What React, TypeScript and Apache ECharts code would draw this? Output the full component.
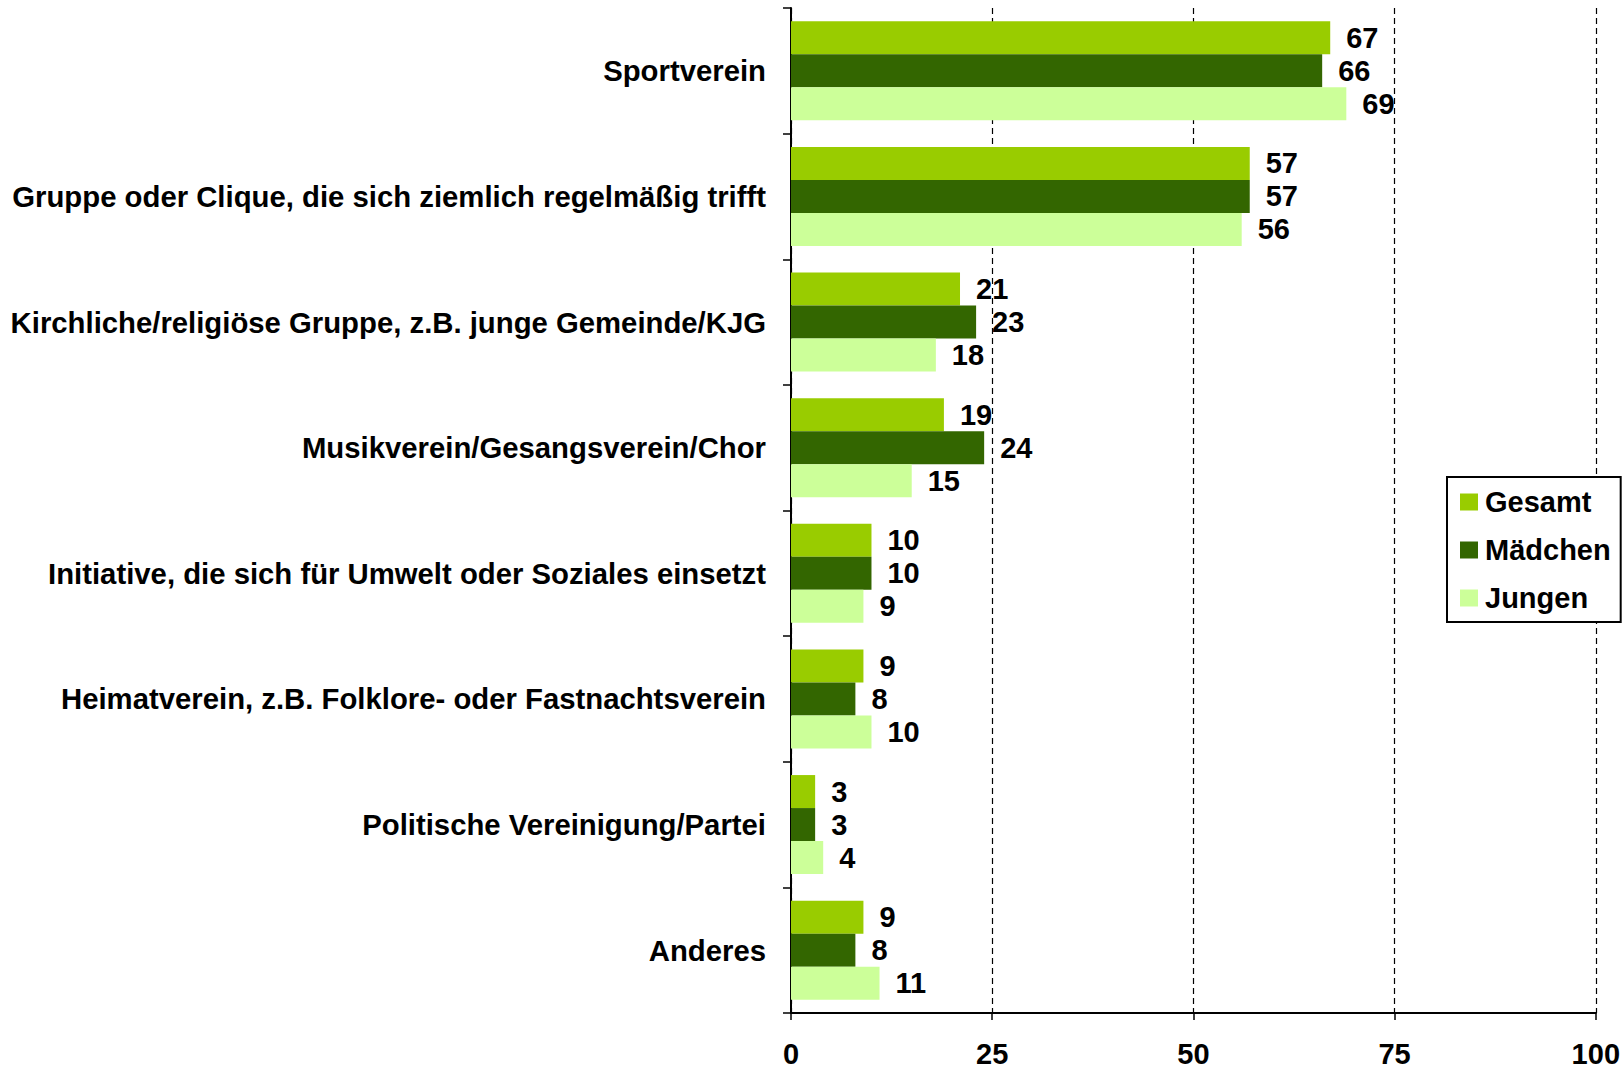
import React, { useEffect, useRef } from "react";
import * as echarts from "echarts";

const categories = [
  "Sportverein",
  "Gruppe oder Clique, die sich ziemlich regelmäßig trifft",
  "Kirchliche/religiöse Gruppe, z.B. junge Gemeinde/KJG",
  "Musikverein/Gesangsverein/Chor",
  "Initiative, die sich für Umwelt oder Soziales einsetzt",
  "Heimatverein, z.B. Folklore- oder Fastnachtsverein",
  "Politische Vereinigung/Partei",
  "Anderes",
];
const gesamt = [67, 57, 21, 19, 10, 9, 3, 9];
const maedchen = [66, 57, 23, 24, 10, 8, 3, 8];
const jungen = [69, 56, 18, 15, 9, 10, 4, 11];
const seriesNames = ["Gesamt", "Mädchen", "Jungen"];
const seriesColors = ["#99CC00", "#336600", "#CCFF99"];
const xTicks = [0, 25, 50, 75, 100];

const FONT = "'Liberation Sans', Arial, sans-serif";

export default function App() {
  const ref = useRef<HTMLDivElement>(null);
  useEffect(() => {
    document.body.style.margin = "0";
    if (!ref.current) return;
    const chart = echarts.init(ref.current, null, { renderer: "svg" });
    const values = [gesamt, maedchen, jungen];
    chart.setOption({
      animation: false,
      backgroundColor: "#ffffff",
      textStyle: { fontFamily: FONT },
      grid: { left: 791, right: 27, top: 8, bottom: 50, containLabel: false },
      legend: {
        orient: "vertical",
        left: 1447,
        top: 477,
        data: seriesNames,
        itemWidth: 18,
        itemHeight: 17,
        itemGap: 18,
        padding: [10, 10, 9, 13],
        borderColor: "#000000",
        borderWidth: 2,
        backgroundColor: "#ffffff",
        icon: "rect",
        textStyle: {
          fontFamily: FONT,
          fontSize: 29,
          lineHeight: 30,
          fontWeight: "bold",
          color: "#000000",
          padding: [0, 0, 0, 2],
        },
      },
      xAxis: {
        type: "value",
        min: xTicks[0],
        max: xTicks[xTicks.length - 1],
        interval: 25,
        axisLine: { show: true, lineStyle: { color: "#000000", width: 2 } },
        axisTick: { show: true, length: 7, lineStyle: { color: "#000000", width: 1.5 } },
        axisLabel: {
          margin: 26,
          fontFamily: FONT,
          fontSize: 29,
          fontWeight: "bold",
          color: "#000000",
        },
        splitLine: {
          show: true,
          lineStyle: { color: "#000000", type: [6, 4], width: 1.2 },
        },
      },
      yAxis: {
        type: "category",
        data: categories,
        inverse: true,
        axisLine: { show: true, lineStyle: { color: "#000000", width: 2 } },
        axisTick: { show: true, length: 8, lineStyle: { color: "#000000", width: 1.5 } },
        axisLabel: {
          margin: 25,
          fontFamily: FONT,
          fontSize: 29.3,
          fontWeight: "bold",
          color: "#000000",
        },
        splitLine: { show: false },
      },
      series: seriesNames.map((name, i) => ({
        name,
        type: "bar",
        data: values[i],
        barWidth: 33,
        barGap: "0%",
        itemStyle: { color: seriesColors[i] },
        label: {
          show: true,
          position: "right",
          distance: 16,
          fontFamily: FONT,
          fontSize: 29,
          fontWeight: "bold",
          color: "#000000",
        },
      })),
    });
    return () => chart.dispose();
  }, []);
  return <div ref={ref} style={{ width: 1623, height: 1068 }} />;
}
